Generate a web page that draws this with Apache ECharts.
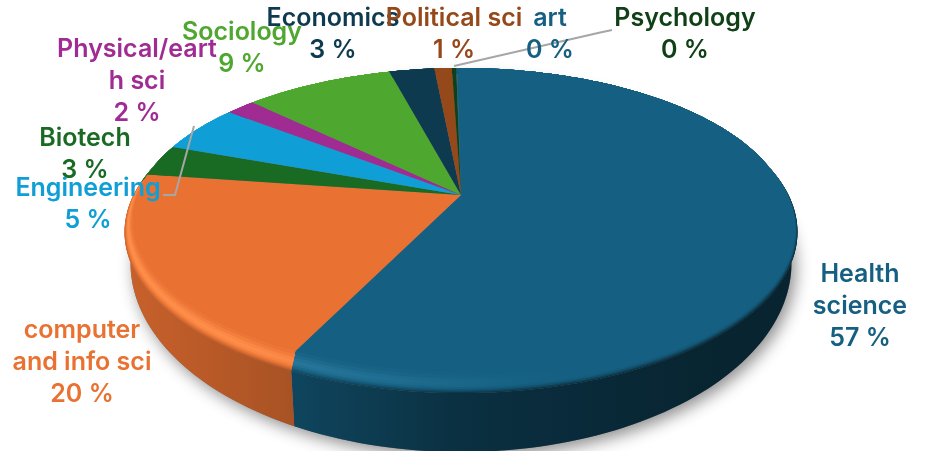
<!DOCTYPE html>
<html>
<head>
<meta charset="utf-8">
<style>
  html, body { margin: 0; padding: 0; background: #fff; }
  #main { width: 926px; height: 451px; }
</style>
<script src="https://cdn.jsdelivr.net/npm/echarts@6/dist/echarts.min.js"></script>
</head>
<body>
<div id="main"></div>
<script>
// values, a bit finer than the rounded labels
var categories = ['Health\nscience', 'computer\nand info sci', 'Biotech', 'Engineering', 'Physical/eart\nh sci',
  'Sociology', 'Economics', 'Political sci', 'Psychology', 'art'];
var shares = [57.4, 20.1, 3.3, 5, 1.7, 8.6, 2.6, 1, 0.25, 0.05];
var sliceColors = ['#156082', '#E97132', '#196B24', '#0F9ED5', '#A02B93', '#4EA72E', '#0E3A50', '#95481A', '#0F4016', '#156082'];

// label centre x, y of first line
var labelPos = [[860, 274], [82, 330], [85, 138], [88, 188], [137, 49], [242, 32], [333, 18], [454, 18], [685, 18], [550, 18]];
var leaderLines = [
  [[163, 195], [175, 195], [194, 126]],
  [[454, 66], [598, 33], [612, 30]]
];

var startDeg = -0.8;
var cx = 461, apexY = 195;
var persp = 0.1646, projA = 324, projB = 147.9;
var face = { rx: 328, cy: 220, ry: 152 };
var rimOuter = { rx: 336, cy: 232, ry: 161 };
var wallBottom = { rx: 330, cy: 263, ry: 189 };

var total = shares.reduce(function (a, b) { return a + b; }, 0);
var angleStart = [];
shares.reduce(function (acc, v, i) {
  angleStart[i] = acc;
  return acc + v / total * 360;
}, startDeg);

function lerp(a, b, t) { return a + (b - a) * t; }
function smooth(a, b, x) {
  var t = Math.max(0, Math.min(1, (x - a) / (b - a)));
  return t * t * (3 - 2 * t);
}
function hexRgb(h) {
  return [parseInt(h.substr(1, 2), 16), parseInt(h.substr(3, 2), 16), parseInt(h.substr(5, 2), 16)];
}
function rgbStr(c) {
  return 'rgb(' + Math.round(c[0]) + ',' + Math.round(c[1]) + ',' + Math.round(c[2]) + ')';
}

function project(deg) {
  var t = deg * Math.PI / 180;
  var u = Math.sin(t), v = -Math.cos(t), w = 1 - persp * v;
  return [cx + projA * u / w, apexY + projB * v / w];
}
function ringPoint(deg, ring) {
  var p = project(deg);
  return [cx + ring.rx * (p[0] - cx) / face.rx, ring.cy + ring.ry * (p[1] - face.cy) / face.ry];
}
function arc(a0, a1, ring) {
  var n = Math.max(2, Math.ceil((a1 - a0) / 1.5)), pts = [];
  for (var i = 0; i <= n; i++) pts.push(ringPoint(lerp(a0, a1, i / n), ring));
  return pts;
}
function bevelRing(s) {
  var e = Math.sin(s * Math.PI / 2);
  return { rx: lerp(face.rx, rimOuter.rx, e), cy: lerp(face.cy, rimOuter.cy, e), ry: lerp(face.ry, rimOuter.ry, e) };
}

// how dark the wall gets going left to right
function wallK(x) {
  if (x < 297) return lerp(0.86, 0.72, (x - 125) / 172);
  if (x < 460) return lerp(0.72, 0.5, (x - 297) / 163);
  return lerp(0.5, 0.38, Math.min(1, (x - 460) / 240));
}
function highlight(x) {
  return Math.max(0, Math.min(1, (540 - x) / 300));
}
function bandFill(base, s, isWall) {
  var stops = [];
  for (var i = 0; i <= 12; i++) {
    var x = lerp(125, 800, i / 12), k = wallK(x), c;
    var wall = [base[0] * k, base[1] * k, base[2] * k];
    if (isWall) {
      c = wall;
    } else {
      var d = smooth(0.45, 1, s);
      var h = highlight(x) * Math.exp(-Math.pow((s - 0.35) / 0.22, 2));
      c = [0, 1, 2].map(function (j) {
        var m = lerp(base[j], wall[j], d);
        return lerp(m, Math.min(255, base[j] * 1.08 + 20), h);
      });
    }
    stops.push({ offset: i / 12, color: rgbStr(c) });
  }
  return new echarts.graphic.LinearGradient(125, 0, 800, 0, stops, true);
}

function sliceRange(i) {
  return [angleStart[i], angleStart[i] + shares[i] / total * 360];
}

function renderShadow() {
  return {
    type: 'polygon',
    shape: { points: arc(0, 360, wallBottom) },
    style: {
      fill: '#777',
      shadowBlur: 16,
      shadowColor: 'rgba(0,0,0,0.45)',
      shadowOffsetX: 4,
      shadowOffsetY: 5
    }
  };
}
function renderWall(params) {
  var r = sliceRange(params.dataIndex);
  return {
    type: 'polygon',
    shape: { points: arc(r[0], r[1], rimOuter).concat(arc(r[0], r[1], wallBottom).reverse()) },
    style: { fill: bandFill(hexRgb(sliceColors[params.dataIndex]), 1, true) }
  };
}
function renderBevel(params) {
  var r = sliceRange(params.dataIndex), base = hexRgb(sliceColors[params.dataIndex]);
  var children = [], strips = 10;
  for (var j = strips; j >= 1; j--) {
    children.push({
      type: 'polygon',
      shape: { points: arc(r[0], r[1], bevelRing(j / strips)).concat(arc(r[0], r[1], face).reverse()) },
      style: { fill: bandFill(base, (j - 0.5) / strips, false) }
    });
  }
  return { type: 'group', children: children };
}
function renderFace(params) {
  var r = sliceRange(params.dataIndex);
  return {
    type: 'polygon',
    shape: { points: [[cx, apexY]].concat(arc(r[0], r[1], face)) },
    style: { fill: sliceColors[params.dataIndex] }
  };
}
function renderLabel(params) {
  var i = params.dataIndex;
  return {
    type: 'text',
    x: labelPos[i][0],
    y: labelPos[i][1] - 16,
    style: {
      text: categories[i] + '\n' + Math.round(shares[i]) + ' %',
      fill: sliceColors[i],
      font: '600 25px Inter',
      lineHeight: 32,
      align: 'center',
      verticalAlign: 'top'
    }
  };
}
function renderLeader(params) {
  return {
    type: 'polyline',
    shape: { points: leaderLines[params.dataIndex] },
    style: { fill: 'none', stroke: '#a6a6a6', lineWidth: 2 }
  };
}

function customSeries(data, fn, z) {
  return { type: 'custom', coordinateSystem: 'none', data: data, renderItem: fn, z: z, silent: true, animation: false };
}

var myChart = echarts.init(document.getElementById('main'));
var option = {
  backgroundColor: '#fff',
  animation: false,
  series: [
    customSeries([0], renderShadow, 1),
    customSeries(shares, renderWall, 2),
    customSeries(shares, renderBevel, 3),
    customSeries(shares, renderFace, 4),
    customSeries(leaderLines.map(function (l, i) { return i; }), renderLeader, 5),
    customSeries(shares, renderLabel, 6)
  ]
};
myChart.setOption(option);
</script>
</body>
</html>
